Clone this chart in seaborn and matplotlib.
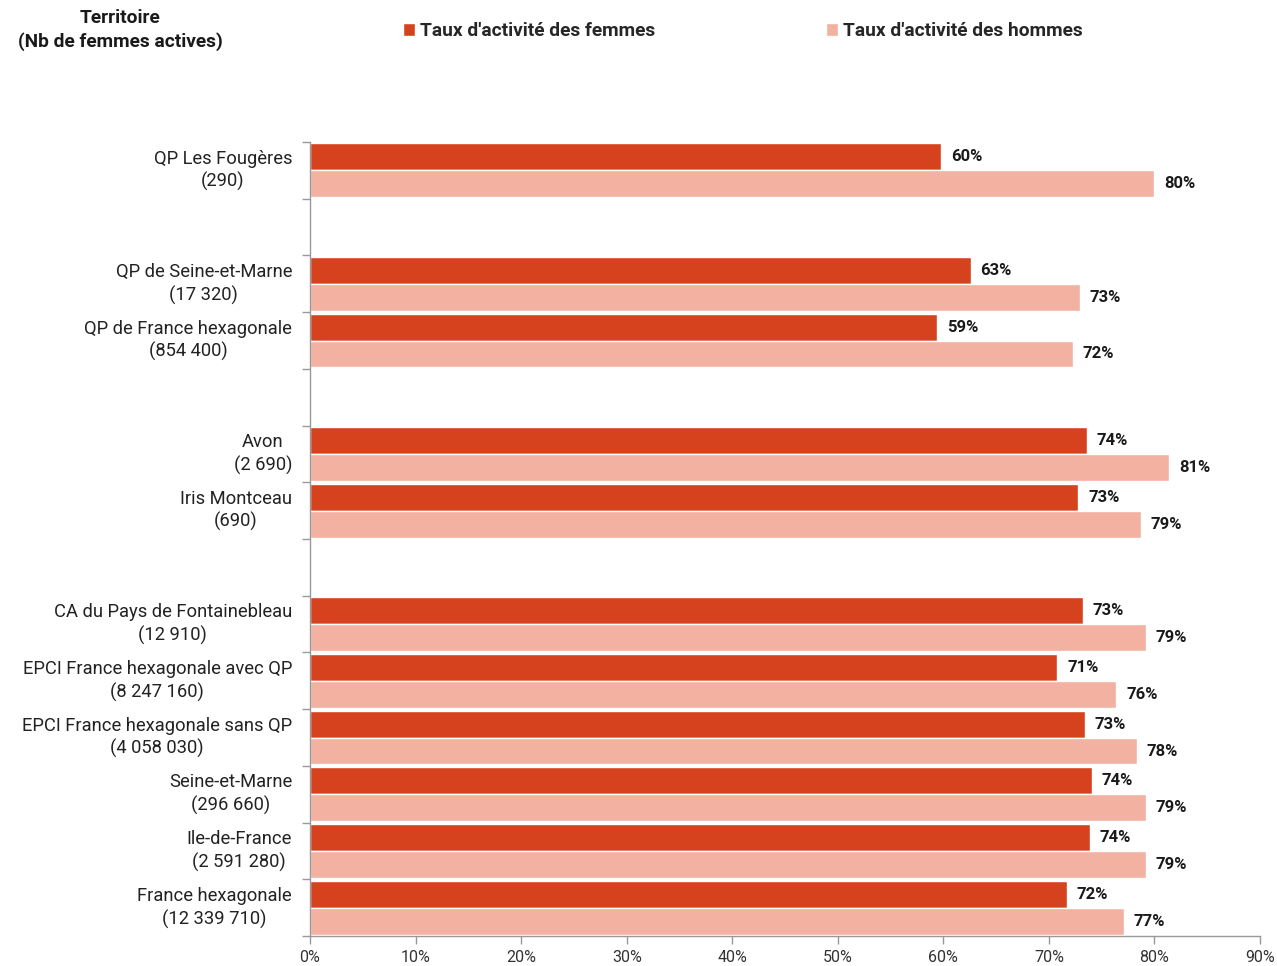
import matplotlib
matplotlib.use("Agg")
import matplotlib.pyplot as plt
import seaborn as sns
import pandas as pd
from matplotlib.ticker import FixedLocator, PercentFormatter

territoires = [
    "QP Les Fougères\n(290)",
    "QP de Seine-et-Marne\n(17 320)",
    "QP de France hexagonale\n(854 400)",
    "Avon\n(2 690)",
    "Iris Montceau\n(690)",
    "CA du Pays de Fontainebleau\n(12 910)",
    "EPCI France hexagonale avec QP\n(8 247 160)",
    "EPCI France hexagonale sans QP\n(4 058 030)",
    "Seine-et-Marne\n(296 660)",
    "Ile-de-France\n(2 591 280)",
    "France hexagonale\n(12 339 710)",
]
taux_femmes = [59.8, 62.6, 59.4, 73.6, 72.8, 73.2, 70.8, 73.4, 74.1, 73.9, 71.7]
taux_hommes = [80.0, 72.9, 72.3, 81.4, 78.7, 79.2, 76.4, 78.3, 79.2, 79.2, 77.1]
series = ["Taux d'activité des femmes", "Taux d'activité des hommes"]
colors = ["#D6421E", "#F3B1A2"]
# display order, with empty slots (gaps) between groups
order = [territoires[0], "gap1", territoires[1], territoires[2], "gap2",
         territoires[3], territoires[4], "gap3"] + territoires[5:]

df = pd.DataFrame({
    "Territoire": territoires * 2,
    "Série": [series[0]] * len(territoires) + [series[1]] * len(territoires),
    "Taux": taux_femmes + taux_hommes,
})

sns.set_theme(style="white")
plt.rcParams["font.family"] = ["Roboto", "DejaVu Sans"]

fig = plt.figure(figsize=(12.77, 9.66), dpi=100)
ax = fig.add_axes([0.2428, 0.031, 0.9867 - 0.2428, 0.853 - 0.031])

sns.barplot(data=df, y="Territoire", x="Taux", hue="Série", order=order,
            hue_order=series, palette=colors, orient="h", width=0.95,
            gap=0, saturation=1, ax=ax, errorbar=None, legend=True)

for cont in ax.containers:
    ax.bar_label(cont, labels=[f"{round(v.get_width())}%" for v in cont],
                 padding=7, fontsize=12, fontweight="bold", color="#1a1a1a")

ax.set_xlim(0, 90)
ax.set_ylim(len(order) - 0.5, -0.5)
ax.xaxis.set_major_locator(FixedLocator(list(range(0, 91, 10))))
ax.xaxis.set_major_formatter(PercentFormatter(decimals=0))
ax.set_yticks(range(len(order)))
ax.set_yticklabels([t if not t.startswith("gap") else "" for t in order],
                   fontsize=13.2, color="#222222", linespacing=1.3,
                   multialignment="center", va="center")
ax.yaxis.set_minor_locator(FixedLocator([i - 0.5 for i in range(len(order) + 1)]))
ax.tick_params(axis="y", which="major", length=0, pad=13)
ax.tick_params(axis="y", which="minor", length=6, color="#999999", width=1, left=True)
ax.tick_params(axis="x", which="major", length=6, color="#999999", width=1,
               bottom=True, labelsize=11.5, labelcolor="#333333", pad=4)
ax.set_xlabel("")
ax.set_ylabel("")
for s in ["top", "right"]:
    ax.spines[s].set_visible(False)
for s in ["left", "bottom"]:
    ax.spines[s].set_color("#999999")
    ax.spines[s].set_linewidth(1)

handles, labels = ax.get_legend_handles_labels()
ax.get_legend().remove()
fig.legend(handles, labels, loc="center left", bbox_to_anchor=(0.302, 0.968),
           ncol=2, frameon=False, handlelength=0.65, handleheight=0.65,
           handletextpad=0.25, columnspacing=8.9,
           prop={"family": ["Roboto", "DejaVu Sans"], "weight": "bold", "size": 13.8})

fig.text(0.094, 0.969, "Territoire\n(Nb de femmes actives)", ha="center", va="center",
         fontsize=13.8, fontweight="bold", color="#1a1a1a", linespacing=1.3)

fig.savefig("out.png", dpi=100)
